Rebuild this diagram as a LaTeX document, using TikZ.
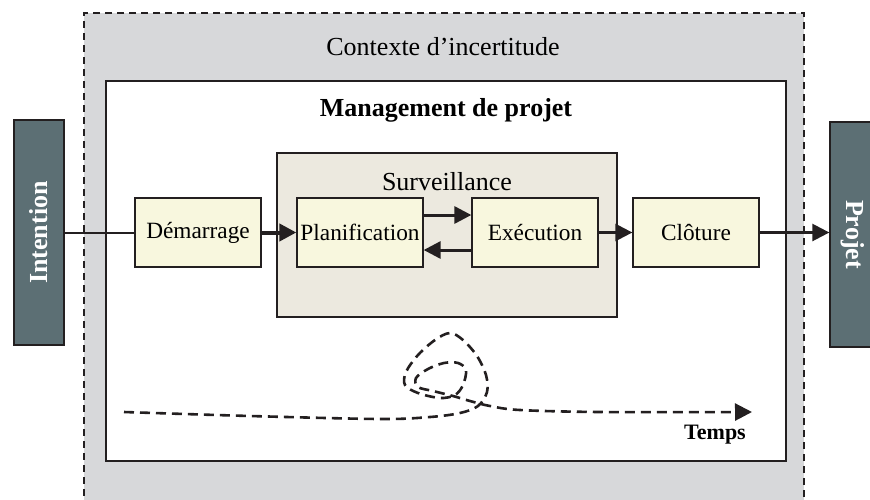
\documentclass[tikz,border=0pt]{standalone}
\usepackage{fontspec}
\setmainfont{Liberation Serif}
\usetikzlibrary{arrows.meta}

\definecolor{ctxgray}{HTML}{D7D8DA}
\definecolor{slate}{HTML}{5C6F74}
\definecolor{survfill}{HTML}{ECE9DF}
\definecolor{phasefill}{HTML}{F8F7DE}
\definecolor{ink}{HTML}{231F20}

\begin{document}
\begin{tikzpicture}[x=1pt,y=-1pt,
  phase/.style={draw=ink, line width=1.3pt, fill=phasefill,
    minimum width=126pt, minimum height=69pt, inner sep=0pt,
    font=\fontsize{23.3}{28}\selectfont},
  endcap/.style={draw=ink, line width=1.3pt, fill=slate, text=white,
    minimum width=225pt, minimum height=50pt, inner sep=0pt,
    font=\bfseries\fontsize{26}{30}\selectfont},
  flow/.style={draw=ink, line width=2.5pt, -{Triangle[length=17pt,width=17pt]}},
  plain/.style={font=\fontsize{26}{30}\selectfont, inner sep=0pt},
]
\clip (0,0) rectangle (870,499);

% uncertainty context (dashed, runs off the bottom)
\node[draw=ink, fill=ctxgray, line width=1.6pt, dash pattern=on 7pt off 5pt,
      minimum width=720pt, minimum height=520pt, inner sep=0pt] (ctx) at (444,273) {};
\node[plain] (ctxlabel) at (443,47) {Contexte d’incertitude};

% project management frame
\node[draw=ink, fill=white, line width=2pt,
      minimum width=680pt, minimum height=380pt, inner sep=0pt] (pm) at (446,271) {};
\node[plain, font=\bfseries\fontsize{26}{30}\selectfont] (pmlabel) at (446,110) {Management de projet};

% monitoring block
\node[draw=ink, fill=survfill, line width=1.3pt,
      minimum width=340pt, minimum height=164pt, inner sep=0pt] (surv) at (447,235) {};
\node[plain] (survlabel) at (447,182) {Surveillance};

% phases
\node[phase] (dem)  at (198,232.5) {Démarrage};
\node[phase] (plan) at (360,232.5) {Planification};
\node[phase] (exec) at (535,232.5) {Exécution};
\node[phase] (clo)  at (696,232.5) {Clôture};

% input / output bars
\node[endcap, rotate=90]  (intent) at (39,232.5) {Intention};
\node[endcap, rotate=-90, minimum height=46pt] (proj) at (853,234.5) {Projet};

% connectors
\draw[ink, line width=2pt] (intent.south) -- (dem.west);
\draw[flow, line width=4pt] (dem.east) -- (plan.west);
\draw[flow, line width=3pt] ([yshift=17.5pt]plan.east) -- ([yshift=17.5pt]exec.west);
\draw[flow, line width=3pt] ([yshift=-17.5pt]exec.west) -- ([yshift=-17.5pt]plan.east);
\draw[flow] (exec.east) -- (clo.west);
\draw[flow] (clo.east) -- (clo.east -| proj.south);

% time line with its loop
\coordinate (tstart) at (124,412);
\coordinate (tend) at (752,412);
\draw[ink, line width=2.6pt, dash pattern=on 10pt off 6pt,
      -{Triangle[length=17pt,width=17pt]}]
  plot[smooth, tension=0.55] coordinates {
    (tstart) (250,416) (380,419) (430,417) (460,413) (478,406) (487,392)
    (486,375) (477,356) (463,340) (450,333) (435,340) (418,355) (406,372)
    (405,385) (418,393) (440,398) (455,395) (463,385) (466,370) (458,363)
    (444,363) (428,369) (416,378) (418,387) (433,391) (453,396) (470,401)
    (490,406) (520,410) (600,412) (tend)};
\node[font=\bfseries\fontsize{22}{26}\selectfont, inner sep=0pt] (temps) at (715,435) {Temps};
\end{tikzpicture}
\end{document}
